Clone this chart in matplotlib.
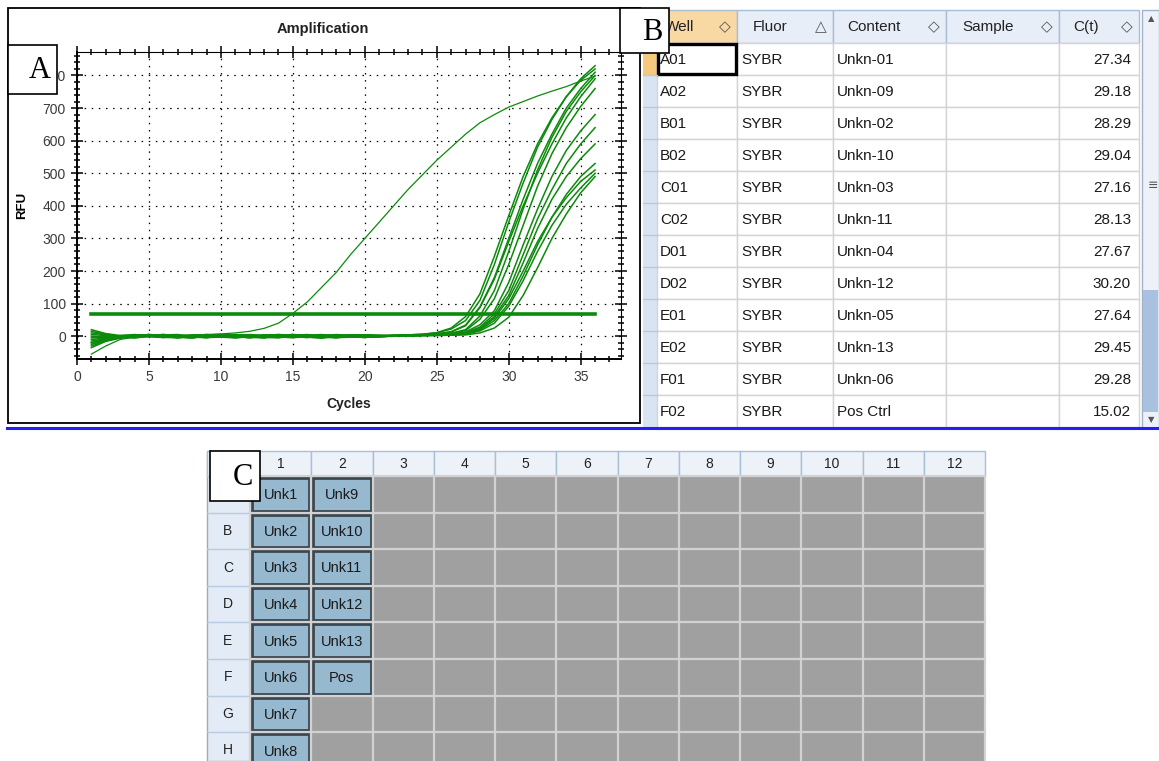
import matplotlib.pyplot as plt
from matplotlib.patches import Rectangle
from matplotlib.ticker import MultipleLocator

W, H = 1159, 761

# ---- amplification curves (RFU per cycle, cycles 1..36) ----
cycles = list(range(1, 37))
unk1 = [20, 8, 2, 3, -2, -4, 1, 4, 2, -3, -5, 0, 3, 5, -1, -4, 2, 4, 0, -3, -2, 3, 4, 6, 10, 22, 48, 110, 220, 350, 470, 580, 665, 735, 790, 830]
unk2 = [15, 6, -1, -3, 2, 5, 3, -2, -4, 1, 4, 2, -3, -5, 0, 3, 5, 1, -2, -4, 1, 3, 2, 3, 5, 9, 17, 52, 115, 220, 340, 460, 560, 640, 705, 760]
unk3 = [-10, -6, -3, 2, 5, 1, -4, -2, 3, 5, 0, -3, -5, 2, 4, 1, -2, -5, 1, 4, 3, 2, 4, 6, 11, 25, 60, 130, 245, 370, 490, 590, 670, 735, 785, 820]
unk4 = [5, 2, -2, -5, -1, 4, 5, 0, -4, -3, 2, 5, 3, -2, -5, 0, 4, 3, -1, -4, 0, 3, 3, 4, 7, 13, 32, 88, 175, 290, 400, 500, 590, 670, 735, 790]
unk5 = [-30, -14, -5, 1, 4, 2, -3, -5, 0, 4, 3, -2, -4, 1, 5, 2, -3, -4, 1, 3, 0, 1, 3, 4, 7, 14, 34, 90, 180, 300, 420, 530, 620, 700, 760, 810]
unk6 = [-35, -16, -6, -2, 3, 5, 1, -4, -3, 2, 4, 0, -5, -2, 3, 5, 0, -4, -3, 2, 3, 1, 2, 3, 4, 5, 8, 22, 55, 115, 200, 290, 365, 425, 475, 510]
unk7 = [-15, -8, -3, 4, 2, -3, -5, 1, 5, 3, -2, -4, 2, 4, 1, -3, -5, 0, 4, 2, -1, 1, 2, 3, 4, 7, 13, 35, 78, 165, 280, 390, 490, 570, 630, 680]
unk8 = [-5, -3, 2, 5, 1, -4, -3, 3, 5, 0, -5, -2, 4, 3, -1, -4, 0, 5, 2, -3, -2, 0, 1, 2, 3, 4, 6, 16, 40, 92, 170, 260, 340, 405, 455, 500]
unk9 = [0, -2, -4, 1, 5, 2, -3, -5, 1, 4, 2, -3, -4, 2, 5, 0, -4, -3, 2, 4, 1, 0, 1, 2, 3, 4, 9, 24, 60, 125, 225, 330, 420, 490, 545, 590]
unk10 = [-25, -12, -4, 2, 5, 0, -4, -2, 4, 3, -1, -5, 0, 4, 2, -3, -5, 1, 3, 4, -1, 0, 2, 3, 4, 6, 11, 28, 68, 140, 250, 360, 450, 530, 590, 640]
unk11 = [-20, -10, -4, 3, 4, -1, -5, 0, 4, 5, -2, -4, 1, 5, 3, -3, -4, 2, 4, 0, -2, 1, 2, 3, 5, 9, 20, 62, 140, 260, 390, 510, 610, 690, 750, 800]
unk12 = [-20, -11, -4, 0, 4, 3, -2, -5, 1, 4, 2, -4, -3, 3, 5, 0, -5, -2, 3, 4, 0, 1, 1, 2, 2, 3, 4, 10, 25, 58, 125, 210, 300, 375, 440, 490]
unk13 = [10, 4, -2, -5, 0, 4, 3, -2, -5, 1, 5, 2, -3, -4, 2, 4, 1, -4, -3, 2, 1, 0, 1, 2, 3, 4, 7, 19, 48, 100, 185, 280, 365, 435, 490, 530]
pos_ctrl = [-55, -30, -10, -3, 0, 1, 2, 3, 5, 7, 10, 15, 24, 40, 70, 105, 150, 195, 250, 300, 350, 400, 450, 495, 540, 580, 620, 655, 680, 703, 720, 737, 752, 766, 783, 798]
threshold = 68

# ---- well table ----
col_names = ["Well", "Fluor", "Content", "Sample", "C(t)"]
col_sort = ["\u25c7", "\u25b3", "\u25c7", "\u25c7", "\u25c7"]
wells = ["A01", "A02", "B01", "B02", "C01", "C02", "D01", "D02", "E01", "E02", "F01", "F02"]
fluors = ["SYBR"] * 12
contents = ["Unkn-01", "Unkn-09", "Unkn-02", "Unkn-10", "Unkn-03", "Unkn-11",
            "Unkn-04", "Unkn-12", "Unkn-05", "Unkn-13", "Unkn-06", "Pos Ctrl"]
samples = [""] * 12
cts = [27.34, 29.18, 28.29, 29.04, 27.16, 28.13, 27.67, 30.20, 27.64, 29.45, 29.28, 15.02]

# ---- plate layout ----
plate_rows = ["A", "B", "C", "D", "E", "F", "G", "H"]
plate_cols = ["1", "2", "3", "4", "5", "6", "7", "8", "9", "10", "11", "12"]
plate_col1 = ["Unk1", "Unk2", "Unk3", "Unk4", "Unk5", "Unk6", "Unk7", "Unk8"]
plate_col2 = ["Unk9", "Unk10", "Unk11", "Unk12", "Unk13", "Pos"]

ui_font = ["Liberation Sans", "DejaVu Sans"]
green = "#0b8a0b"

fig = plt.figure(figsize=(W / 100, H / 100), dpi=100)
bg = fig.add_axes([0, 0, 1, 1])
bg.set_xlim(0, W)
bg.set_ylim(H, 0)
bg.axis("off")


def box(ax, x0, y0, x1, y1, **kw):
    ax.add_patch(Rectangle((x0, y0), x1 - x0, y1 - y0, **kw))


# panel A frame and texts
box(bg, 7.5, 7.5, 640, 422.5, fill=False, ec="black", lw=1.3)
bg.text(323, 29, "Amplification", ha="center", va="center", fontsize=10.5,
        fontweight="bold", family=["Liberation Sans"], color="#222222")
bg.text(22, 205, "RFU", rotation=90, ha="center", va="center", fontsize=9.5,
        fontweight="bold", family=["Liberation Sans"])
bg.text(349, 404, "Cycles", ha="center", va="center", fontsize=10,
        fontweight="bold", family=["Liberation Sans"], color="#222222")

ax = fig.add_axes([77 / W, 1 - 359 / H, (621 - 77) / W, (359 - 51.7) / H], zorder=1)
for ys in [unk1, unk2, unk3, unk4, unk5, unk6, unk7, unk8, unk9, unk10, unk11, unk12, unk13]:
    ax.plot(cycles, ys, color=green, lw=1.1)
ax.plot(cycles, pos_ctrl, color=green, lw=0.9)
ax.plot([cycles[0], cycles[-1]], [threshold, threshold], color=green, lw=2.6)
ax.set_xlim(0, 37.8)
ax.set_ylim(-70, 873)
ax.xaxis.set_major_locator(MultipleLocator(5))
ax.xaxis.set_minor_locator(MultipleLocator(1))
ax.yaxis.set_major_locator(MultipleLocator(100))
ax.yaxis.set_minor_locator(MultipleLocator(20))
ax.grid(True, which="major", color="black", ls=(0, (1.2, 4.5)), lw=0.9)
ax.tick_params(which="both", direction="inout", top=True, right=True,
               labelsize=10, labelcolor="#3a3a3a", width=1.1)
ax.tick_params(which="major", length=9)
ax.tick_params(which="minor", length=5)
for lab in ax.get_xticklabels() + ax.get_yticklabels():
    lab.set_family(ui_font)
for side in ["left", "bottom"]:
    ax.spines[side].set_linewidth(1.4)
for side in ["top", "right"]:
    ax.spines[side].set_linewidth(0.8)

# panel B: well table
col_x = [657, 737, 833, 946, 1059, 1139]
head_y0, head_y1 = 10, 43
row_h = 32
box(bg, 643, head_y0, 657, 428, fc="#d9e4f2", ec="none")
box(bg, 643, head_y0, 657, head_y1 + row_h, fc="#f6c97f", ec="none")
head_pad = [8, 16, 14, 16, 14]
for j in range(len(col_names)):
    fc = "#f8d9a4" if j == 0 else "#e8eef7"
    box(bg, col_x[j], head_y0, col_x[j + 1], head_y1, fc=fc, ec="#a9bdd6", lw=1)
    bg.text(col_x[j] + head_pad[j], 27, col_names[j], ha="left", va="center",
            fontsize=11, family=ui_font, color="#222222")
    bg.text(col_x[j + 1] - 12, 27, col_sort[j], ha="center", va="center", fontsize=11,
            family=["DejaVu Sans"], color="#555555")
for i in range(len(wells)):
    y0 = head_y1 + i * row_h
    for j in range(len(col_names)):
        box(bg, col_x[j], y0, col_x[j + 1], y0 + row_h, fc="white", ec="#d4d4d4", lw=1)
    yc = y0 + row_h / 2 + 1
    bg.text(col_x[0] + 3, yc, wells[i], ha="left", va="center", fontsize=11, family=ui_font, color="#1a1a1a")
    bg.text(col_x[1] + 4, yc, fluors[i], ha="left", va="center", fontsize=11, family=ui_font, color="#1a1a1a")
    bg.text(col_x[2] + 4, yc, contents[i], ha="left", va="center", fontsize=11, family=ui_font, color="#1a1a1a")
    bg.text(col_x[3] + 4, yc, samples[i], ha="left", va="center", fontsize=11, family=ui_font, color="#1a1a1a")
    bg.text(col_x[5] - 8, yc, f"{cts[i]:.2f}", ha="right", va="center", fontsize=11, family=ui_font, color="#1a1a1a")
    bg.plot([643, 657], [y0, y0], color="#b8c9df", lw=1)
# selected cell
box(bg, col_x[0] + 1, head_y1 + 1, col_x[1] - 1, head_y1 + row_h - 1, fill=False, ec="black", lw=2.4)
# scrollbar
box(bg, 1142, head_y0, 1159, 428, fc="#eef2f8", ec="#9fb3cc", lw=1)
box(bg, 1143, 290, 1158, 412, fc="#a9c1e0", ec="none")
bg.text(1151, 19, "\u25b2", ha="center", va="center", fontsize=6, color="#555555")
bg.text(1151, 420, "\u25bc", ha="center", va="center", fontsize=6, color="#555555")
bg.text(1153, 185, "\u2261", ha="center", va="center", fontsize=9, color="#555555")

# blue divider
bg.plot([7, W], [428, 428], color="#1f1fff", lw=2.2)

# panel C: plate map
px0, pcw = 250, 61.25
py0, prh = 476, 36.6
box(bg, 207, 451, px0, H, fc="#e3ebf6", ec="#a9a9a9", lw=1)
for c in range(len(plate_cols)):
    box(bg, px0 + c * pcw, 451, px0 + (c + 1) * pcw, py0, fc="#edf2f9", ec="#a9bfd8", lw=1)
    bg.text(px0 + (c + 0.5) * pcw, 464, plate_cols[c], ha="center", va="center",
            fontsize=10, family=ui_font, color="#222222")
box(bg, 207, 451, px0, py0, fc="#edf2f9", ec="#a9bfd8", lw=1)
box(bg, px0, py0, px0 + 12 * pcw, H + 10, fc="#a0a0a0", ec="none")
for r in range(len(plate_rows)):
    y = py0 + r * prh
    bg.plot([207, px0], [y, y], color="#b9cbe0", lw=1)
    bg.plot([px0, px0 + 12 * pcw], [y, y], color="#d2d2d2", lw=1.6)
    bg.text(228, y + prh / 2, plate_rows[r], ha="center", va="center", fontsize=10,
            family=ui_font, color="#222222")
for c in range(13):
    bg.plot([px0 + c * pcw] * 2, [py0, H], color="#d2d2d2", lw=1.6)
for col, labels in enumerate([plate_col1, plate_col2]):
    for r, lab in enumerate(labels):
        x0 = px0 + col * pcw
        y = py0 + r * prh
        box(bg, x0 + 2, y + 2, x0 + pcw - 2, y + prh - 2, fc="#97b9d0", ec="#3b4750", lw=2)
        bg.text(x0 + pcw / 2, y + prh / 2 + 1, lab, ha="center", va="center", fontsize=10.5,
                family=ui_font, color="#1a1a1a")

# panel labels on top
top = fig.add_axes([0, 0, 1, 1], zorder=5)
top.set_xlim(0, W)
top.set_ylim(H, 0)
top.axis("off")
top.patch.set_alpha(0)
for lab, (x0, y0, x1, y1) in zip(["A", "B", "C"],
                                  [(7.5, 44.5, 56.5, 93.5), (619.5, 7.5, 668.5, 52.5), (209.5, 450.5, 259.5, 500.5)]):
    box(top, x0, y0, x1, y1, fc="white", ec="black", lw=1.2)
    top.text(x1 - 6, (y0 + y1) / 2 + 2, lab, ha="right", va="center", fontsize=22,
             family=["Liberation Serif", "DejaVu Serif"])

fig.savefig("out.png", dpi=100)
